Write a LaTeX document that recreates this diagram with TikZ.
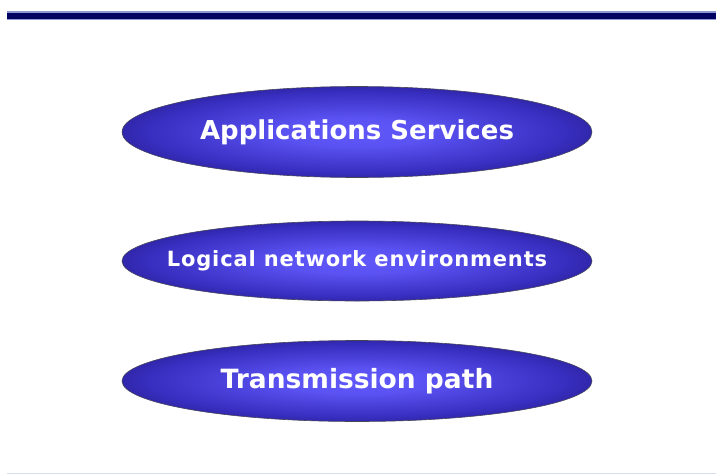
\documentclass[tikz,border=0pt]{standalone}
\usepackage{fontspec}
\setmainfont{DejaVu Sans}
\usetikzlibrary{shapes.geometric}
\definecolor{barblue}{RGB}{0,0,96}
\definecolor{baredge}{RGB}{140,150,210}
\definecolor{ecenter}{RGB}{96,88,250}
\definecolor{emid}{RGB}{56,46,192}
\definecolor{eouter}{RGB}{24,16,105}
\definecolor{eline}{RGB}{70,70,90}
\definecolor{footline}{RGB}{215,222,235}
\pgfdeclareradialshading{layershade}{\pgfpoint{0bp}{0bp}}{color(0bp)=(ecenter); color(8bp)=(ecenter!85!emid); color(22bp)=(emid); color(35bp)=(eouter); color(100bp)=(eouter)}
\tikzset{
  layer/.style={ellipse, draw=eline, line width=0.6pt, shading=layershade,
    minimum width=470pt, minimum height=#1, inner sep=0pt},
  layertext/.style={text=white, inner sep=0pt},
}
\begin{document}
\begin{tikzpicture}[x=1pt,y=-1pt]
\useasboundingbox (0,0) rectangle (716,474);
\fill[white] (0,0) rectangle (716,474);
\fill[baredge] (7,11) rectangle (716,20);
\fill[barblue] (7,12.5) rectangle (716,18.5);
\draw[footline, line width=0.8pt] (7,473) -- (716,473);
\node[layer=91pt] (app) at (357,132) {};
\node[layer=80pt] (log) at (357,261) {};
\node[layer=81pt] (tra) at (357,381) {};
\node[layertext, font=\bfseries\fontsize{26}{30}\selectfont] (appt) at (app) {Applications Services};
\node[layertext, font=\bfseries\fontsize{21}{25}\selectfont\addfontfeatures{LetterSpace=4}] (logt) at (log) {Logical network environments};
\node[layertext, font=\bfseries\fontsize{26.5}{30}\selectfont] (trat) at (tra) {Transmission path};
\end{tikzpicture}
\end{document}
